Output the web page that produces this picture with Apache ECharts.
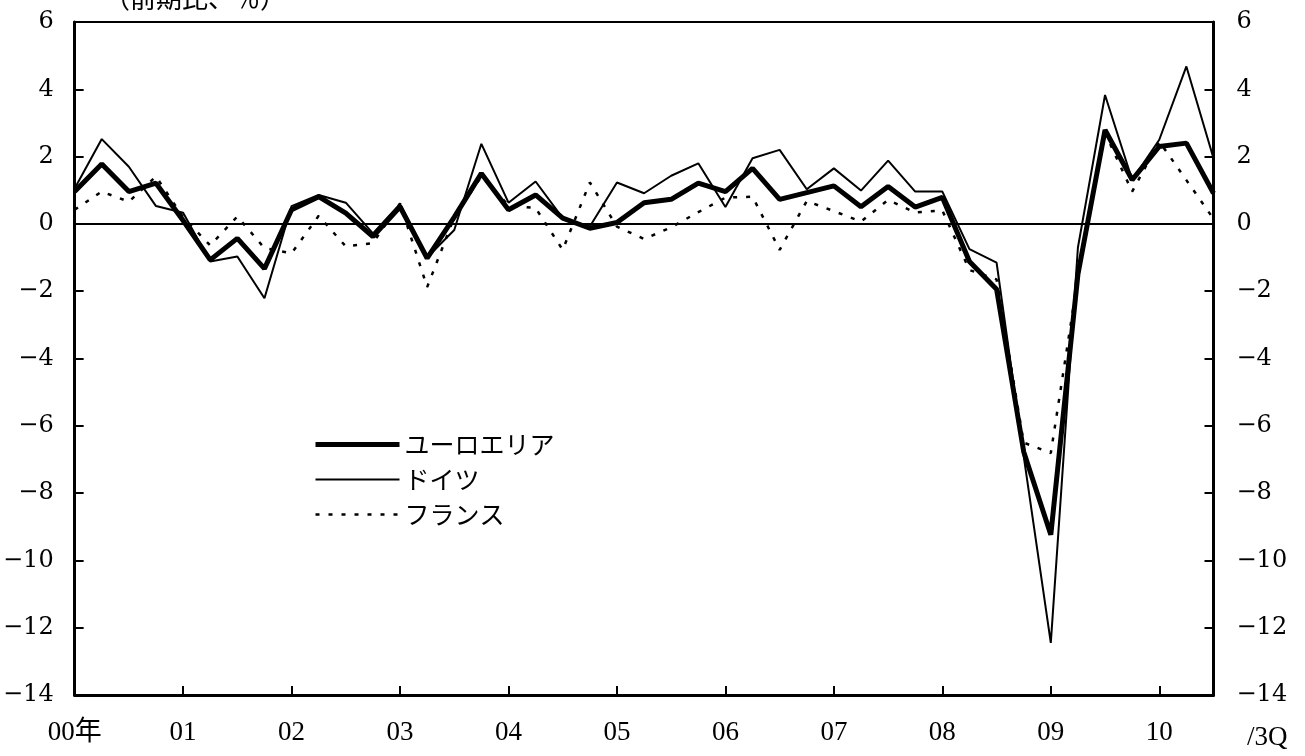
<!DOCTYPE html>
<html>
<head>
<meta charset="utf-8">
<script src="https://cdn.jsdelivr.net/npm/echarts@6/dist/echarts.min.js"></script>
<style>
html,body{margin:0;padding:0;background:#fff;}
#chart{width:1305px;height:756px;}
</style>
</head>
<body>
<div id="chart"></div>
<script>
// 2000Q1 .. 2010Q3 (quarterly)
const years = ['00年','01','02','03','04','05','06','07','08','09','10'];
const categories = [];
for (let y = 0; y < years.length; y++) {
  for (let q = 1; q <= 4; q++) {
    if (y === 10 && q > 3) break;
    categories.push(years[y] + '_' + q + 'Q');
  }
}
const euroArea = [0.96,1.78,0.96,1.21,0.10,-1.07,-0.43,-1.33,0.42,0.81,0.32,-0.38,0.51,-1.02,0.20,1.50,0.42,0.86,0.17,-0.13,0.04,0.63,0.73,1.21,0.96,1.65,0.73,0.93,1.13,0.51,1.11,0.50,0.79,-1.12,-1.94,-6.77,-9.24,-1.50,2.79,1.31,2.30,2.40,0.91];
const germany = [1.05,2.52,1.70,0.53,0.33,-1.12,-0.97,-2.21,0.53,0.86,0.63,-0.28,0.59,-1.00,-0.18,2.38,0.63,1.26,0.17,-0.08,1.23,0.91,1.43,1.80,0.50,1.95,2.20,1.03,1.65,0.99,1.88,0.96,0.96,-0.75,-1.15,-6.90,-12.45,-0.70,3.83,1.31,2.50,4.68,1.95];
const france = [0.42,0.96,0.66,1.41,0.20,-0.64,0.22,-0.72,-0.87,0.24,-0.67,-0.57,0.61,-1.88,0.20,1.41,0.55,0.47,-0.77,1.23,-0.08,-0.45,-0.10,0.35,0.78,0.81,-0.77,0.68,0.38,0.07,0.71,0.34,0.40,-1.37,-1.65,-6.50,-6.81,-1.60,2.70,0.96,2.45,1.30,0.15];
const seriesNames = ['ユーロエリア','ドイツ','フランス'];
const unitLabel = '（前期比、％）';
const endLabel = '/3Q';

const chart = echarts.init(document.getElementById('chart'), null, {renderer:'canvas'});
const numFont = '"DejaVu Serif", "Noto Sans CJK JP", serif';
const xFont = '"Liberation Serif", "Noto Sans CJK JP", serif';
const jpFont = '"Noto Sans CJK JP", sans-serif';
const fmtY = v => String(v).replace('-', '\u2212');
const isYearStart = i => i % 4 === 0;

const styles = [
  {color:'#000', width:5, type:'solid'},
  {color:'#000', width:2, type:'solid'},
  {color:'#000', width:2.5, type:[4,9]}
];

const yCommon = {
  type:'value', min:-14, max:6, interval:2,
  axisLine:{show:true, lineStyle:{color:'#000', width:3}},
  axisTick:{show:true, inside:true, length:9, lineStyle:{color:'#000', width:2}},
  splitLine:{show:false},
  axisLabel:{color:'#000', fontFamily:numFont, fontSize:24, formatter:fmtY}
};

chart.setOption({
  backgroundColor:'#fff',
  animation:false,
  grid:{left:74, right:91.5, top:22, bottom:61, show:true, borderColor:'#000', borderWidth:2},
  legend:{
    orient:'vertical', left:313, top:432, padding:0,
    itemWidth:84, itemHeight:14, itemGap:10,
    data:seriesNames.map((n,i)=>({name:n, itemStyle:{opacity:0, borderWidth:0}, lineStyle:styles[i]})),
    textStyle:{fontFamily:jpFont, fontSize:25, color:'#000'}
  },
  xAxis:{
    type:'category', data:categories, boundaryGap:false,
    axisLine:{show:true, onZero:false, lineStyle:{color:'#000', width:3}},
    axisTick:{show:true, inside:true, length:9, interval:(i)=>isYearStart(i), lineStyle:{color:'#000', width:2}},
    axisLabel:{interval:(i)=>isYearStart(i), formatter:(v)=>v.split('_')[0], color:'#000', fontFamily:xFont, fontSize:27, margin:24},
    splitLine:{show:false}
  },
  yAxis:[
    Object.assign({}, yCommon, {position:'left', axisLabel:Object.assign({}, yCommon.axisLabel, {margin:21})}),
    Object.assign({}, yCommon, {position:'right', axisLabel:Object.assign({}, yCommon.axisLabel, {margin:23})})
  ],
  graphic:[
    {type:'text', left:104, top:-15, style:{text:unitLabel, font:'26px "Noto Sans CJK JP"', fill:'#000'}},
    {type:'text', left:1247, top:724, style:{text:endLabel, font:'27px "Liberation Serif"', fill:'#000'}}
  ],
  series:[
    {name:seriesNames[0], type:'line', data:euroArea, symbol:'none', z:5,
     lineStyle:styles[0], itemStyle:{color:'#000'},
     markLine:{silent:true, symbol:'none', label:{show:false}, lineStyle:{color:'#000', width:2, type:'solid'}, data:[{yAxis:0}]}},
    {name:seriesNames[1], type:'line', data:germany, symbol:'none', z:4,
     lineStyle:styles[1], itemStyle:{color:'#000'}},
    {name:seriesNames[2], type:'line', data:france, symbol:'none', z:3,
     lineStyle:styles[2], itemStyle:{color:'#000'}}
  ]
});
</script>
</body>
</html>
